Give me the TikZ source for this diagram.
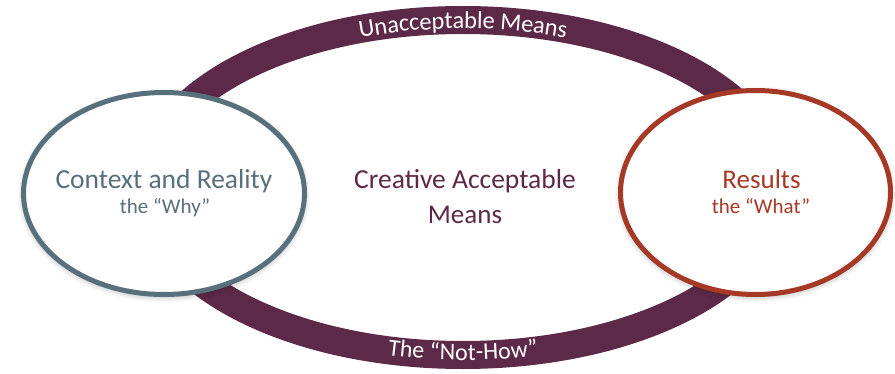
\documentclass[tikz,border=0pt]{standalone}
\usepackage{fontspec}
\setmainfont{Carlito}
\usetikzlibrary{shapes.geometric,decorations.text,shadows.blur}
\definecolor{plum}{HTML}{5D2948}
\definecolor{slate}{HTML}{586F7C}
\definecolor{rust}{HTML}{A53926}
\tikzset{
  bubble/.style={ellipse, line width=5pt, fill=white, inner sep=0pt,
    blur shadow={shadow xshift=0pt, shadow yshift=-2pt, shadow blur radius=6pt, shadow opacity=35}},
  bigtxt/.style={font=\fontsize{27}{30}\selectfont, anchor=base},
  subtxt/.style={font=\fontsize{21}{24}\selectfont, anchor=base},
}
\begin{document}
\begin{tikzpicture}[x=1pt,y=1pt]
\useasboundingbox (0,0) rectangle (895,373);
% ring
\coordinate (rc) at (463,185.5);
\draw[plum, line width=28pt] (rc) ellipse[x radius=317, y radius=167.5];
\path[postaction={decorate}, decoration={text along path, text align=center, raise=-8.5pt,
  text={|\fontsize{24.5}{28}\selectfont\color{white}|Unacceptable Means}}]
  (rc) ++(150:317 and 167.5) arc[start angle=150, end angle=30, x radius=317, y radius=167.5];
\path[postaction={decorate}, decoration={text along path, text align=center, raise=-5pt,
  text={|\fontsize{24}{28}\selectfont\color{white}|The “Not-How”}}]
  (rc) ++(210:317 and 167.5) arc[start angle=210, end angle=330, x radius=317, y radius=167.5];
% bubbles
\node[bubble, draw=slate, minimum width=281pt, minimum height=202pt] (ctx) at (164,179.5) {};
\node[bubble, draw=rust, minimum width=270pt, minimum height=204pt] (res) at (755.5,180.5) {};
% texts
\node[bigtxt, text=slate, font=\fontsize{27.5}{30}\selectfont] (ctxa) at (164,185) {Context and Reality};
\node[subtxt, text=slate] (ctxb) at (165,160) {the “Why”};
\node[bigtxt, text=plum, font=\fontsize{27.5}{30}\selectfont] (cama) at (465,185) {Creative Acceptable};
\node[bigtxt, text=plum] (camb) at (465,150) {Means};
\node[bigtxt, text=rust] (resa) at (761.5,185) {Results};
\node[subtxt, text=rust] (resb) at (761,160) {the “What”};
\end{tikzpicture}
\end{document}
